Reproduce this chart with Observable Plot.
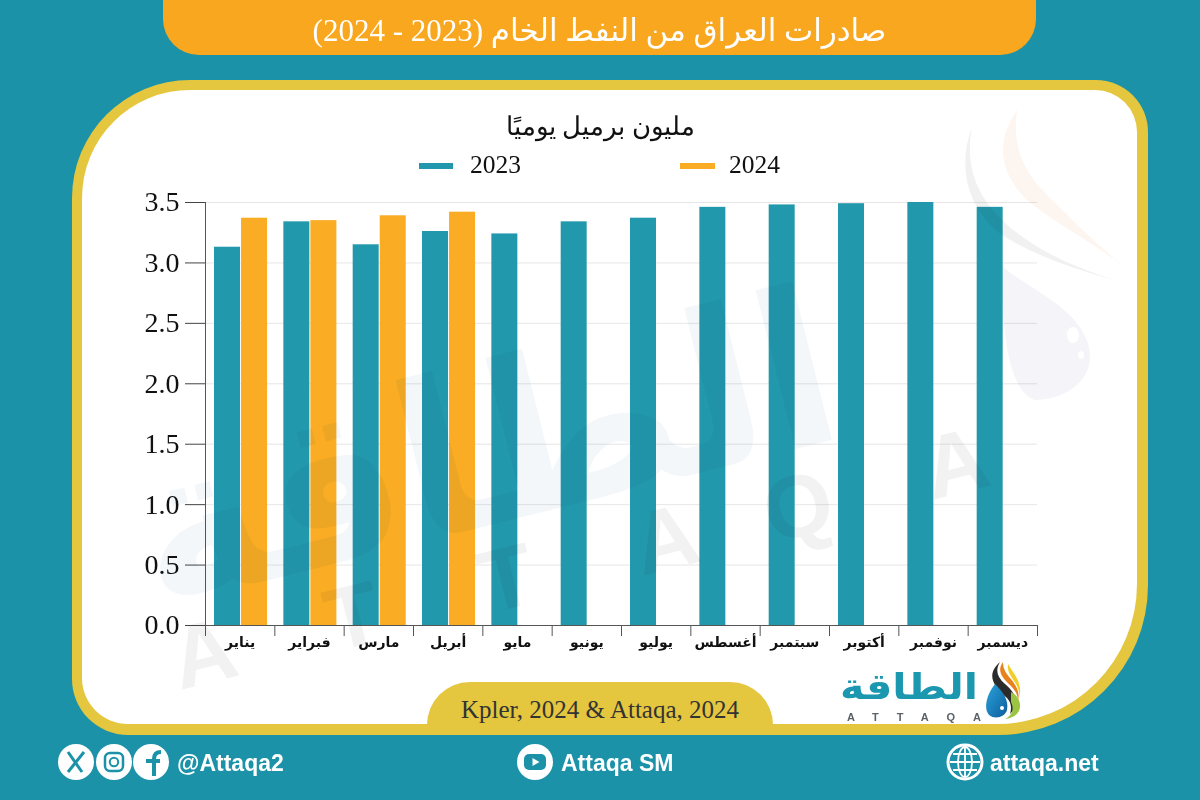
<!DOCTYPE html>
<html lang="ar">
<head>
<meta charset="utf-8">
<script src="https://cdn.jsdelivr.net/npm/d3@7"></script>
<script src="https://cdn.jsdelivr.net/npm/@observablehq/plot@0.6"></script>
<style>
html,body{margin:0;padding:0;width:1200px;height:800px;overflow:hidden;background:#1b92a8;}
body{position:relative;font-family:"Liberation Serif",serif;}
.abs{position:absolute;}
#topbar{left:163px;top:0;width:873px;height:55px;background:#f9a71e;border-radius:0 0 36px 36px;color:#fff;font-size:31px;line-height:61px;text-align:center;font-family:"Liberation Serif","DejaVu Sans",serif;}
#frame{left:72px;top:80px;width:1076px;height:655px;background:#e4c63f;border-radius:118px 52px 150px 56px;}
#panel,#wm{left:82px;top:90px;width:1055px;height:634px;border-radius:108px 42px 140px 46px;overflow:hidden;}
#panel{background:#fff;}
#wm{mix-blend-mode:multiply;pointer-events:none;}
#sub{left:300px;width:600px;top:109px;text-align:center;font-size:26px;line-height:36px;color:#111;}
.lg{height:6px;top:163px;}
.lt{top:151px;font-size:25.5px;line-height:28px;color:#111;}
#chart{left:130px;top:190px;}
#source{left:427px;top:682px;width:346px;height:43px;background:#e4c63f;border-radius:46px 46px 0 0;text-align:center;font-size:25px;line-height:56px;color:#333;}
.ft{color:#fff;font:bold 23px/26px "Liberation Sans",sans-serif;top:750px;}
</style>
</head>
<body>
<div class="abs" id="topbar" dir="rtl"><span dir="rtl">صادرات العراق من النفط الخام (2023 - 2024)</span></div>
<div class="abs" id="frame"></div>
<div class="abs" id="panel"></div>
<div class="abs" id="sub" dir="rtl">مليون برميل يوميًا</div>
<div class="abs lg" style="left:419px;width:34px;background:#2298ac"></div>
<div class="abs lt" style="left:470px">2023</div>
<div class="abs lg" style="left:680px;width:35px;background:#f9ac24"></div>
<div class="abs lt" style="left:729px">2024</div>
<div class="abs" id="chart"></div>
<div class="abs" id="wm">
  <svg width="1055" height="634" style="position:absolute;left:0;top:0">
    <text x="420" y="432" transform="rotate(-14 420 432)" font-family="DejaVu Sans" font-weight="bold" font-size="215" text-anchor="middle" dir="rtl" fill="#f3f7fa">الطاقة</text>
    <g fill="#f2f2f3" font-family="Liberation Sans" font-weight="bold" font-size="88">
      <text x="98" y="600" transform="rotate(-14 98 600)">A</text>
      <text x="252" y="562" transform="rotate(-14 252 562)">T</text>
      <text x="406" y="524" transform="rotate(-14 406 524)">T</text>
      <text x="560" y="486" transform="rotate(-14 560 486)">A</text>
      <text x="690" y="454" transform="rotate(-14 690 454)">Q</text>
      <text x="850" y="410" transform="rotate(-14 850 410)">A</text>
    </g>
    <path d="M890 37 C880 90 905 130 970 165 C1000 180 1030 190 1053 195 C1010 185 960 170 920 145 C885 120 875 75 890 37Z" fill="#f1f1f2"/>
    <path d="M935 20 C915 50 915 80 945 110 C975 135 1015 155 1040 175 C1010 150 985 125 965 105 C940 80 930 55 935 20Z" fill="#fdf5f0"/>
    <path d="M921 177 C948 200 1003 220 1008 263 C1010 295 978 310 953 310 C933 305 918 260 921 177Z" fill="#f4f4f9"/>
    <ellipse cx="991" cy="245" rx="6" ry="8" fill="#fff"/>
    <ellipse cx="999" cy="265" rx="3" ry="4" fill="#fff"/>
  </svg>
</div>
<div class="abs" id="source">Kpler, 2024 &amp; Attaqa, 2024</div>

<svg class="abs" style="left:835px;top:662px" width="210" height="62">
  <defs>
    <linearGradient id="dropG" x1="0" y1="0" x2="1" y2="1"><stop offset="0" stop-color="#2aa3dc"/><stop offset="1" stop-color="#0d5e9c"/></linearGradient>
  </defs>
  <text x="74" y="37" text-anchor="middle" font-family="DejaVu Sans" font-weight="bold" font-size="36" fill="#1b97b0" dir="rtl" textLength="138" lengthAdjust="spacingAndGlyphs">الطاقة</text>
  <text x="12" y="59" font-family="Liberation Sans" font-weight="bold" font-size="11" fill="#5c6166" textLength="134">ATTAQA</text>
  <path d="M165 0 C152 12 156 22 172 36 C176 40 177 46 175 52 C186 42 180 30 170 22 C162 15 160 8 165 0Z" fill="#2b2b2b"/>
  <path d="M168 0 C162 8 166 15 176 24 C182 30 184 36 182 42 C186 32 182 24 175 16 C170 10 168 6 168 0Z" fill="#e8821c"/>
  <path d="M173 2 C172 10 176 14 181 22 C184 28 185 32 184 36 C187 28 184 18 178 10Z" fill="#f0cf2c"/>
  <path d="M176 40 C180 48 176 54 170 57 C180 56 186 50 185 42 C184 36 180 32 176 30Z" fill="#9ac441"/>
  <path d="M160 22 C168 30 174 38 172 48 C170 55 160 58 154 53 C148 46 152 32 160 22Z" fill="url(#dropG)"/>
  <circle cx="167" cy="46" r="2" fill="#fff"/>
</svg>

<svg class="abs" style="left:55px;top:742px" width="120" height="40">
  <g fill="#fff"><ellipse cx="21" cy="20" rx="18" ry="18"/><ellipse cx="59" cy="20" rx="18" ry="18"/><ellipse cx="96" cy="20" rx="18" ry="18"/></g>
  <path d="M13 10 L27 30 M29 10 L13 30" stroke="#1b92a8" stroke-width="3" fill="none"/>
  <rect x="50" y="11" width="18" height="18" rx="5" fill="none" stroke="#1b92a8" stroke-width="2.5"/>
  <circle cx="59" cy="20" r="4.2" fill="none" stroke="#1b92a8" stroke-width="2"/>
  <path d="M99 34 V17 Q99 10 106 10 M91 19 H105" stroke="#1b92a8" stroke-width="4" fill="none"/>
</svg>
<div class="abs ft" style="left:177px">@Attaqa2</div>
<svg class="abs" style="left:516px;top:743px" width="40" height="38">
  <circle cx="19" cy="19" r="18" fill="#fff"/>
  <rect x="8" y="11" width="22" height="16" rx="5" fill="#1b92a8"/>
  <path d="M16.5 15 L23.5 19 L16.5 23Z" fill="#fff"/>
</svg>
<div class="abs ft" style="left:561px">Attaqa SM</div>
<svg class="abs" style="left:946px;top:743px" width="40" height="38">
  <circle cx="19" cy="19" r="17" fill="#1b92a8" stroke="#fff" stroke-width="3"/>
  <g fill="none" stroke="#fff" stroke-width="1.8"><ellipse cx="19" cy="19" rx="7" ry="15"/><path d="M19 4 V34 M4 19 H34 M7 11 H31 M7 27 H31"/></g>
</svg>
<div class="abs ft" style="left:990px">attaqa.net</div>

<script>
const months = ["يناير","فبراير","مارس","أبريل","مايو","يونيو","يوليو","أغسطس","سبتمبر","أكتوبر","نوفمبر","ديسمبر"];
const exports2023 = [3.13,3.34,3.15,3.26,3.24,3.34,3.37,3.46,3.48,3.49,3.50,3.46];
const exports2024 = [3.37,3.35,3.39,3.42];
const yTicks = [0,0.5,1,1.5,2,2.5,3,3.5];

const rows = [
  ...exports2023.map((value,i)=>({i,value,year:"2023",a:0.13,b:0.505})),
  ...exports2024.map((value,i)=>({i,value,year:"2024",a:0.52,b:0.895}))
];
const monthEdges = d3.range(months.length+1);
const monthCentres = months.map((_,i)=>i+0.5);

const chart = Plot.plot({
  width:920,height:480,
  marginLeft:75,marginRight:13,marginTop:12,marginBottom:45,
  style:{background:"transparent",fontFamily:"'Liberation Serif',serif",overflow:"visible"},
  x:{domain:[0,months.length]},
  y:{domain:[0,3.5]},
  color:{domain:["2023","2024"],range:["#2298ac","#f9ac24"]},
  marks:[
    Plot.gridY(yTicks,{stroke:"#dcdcdc",strokeOpacity:0.7}),
    Plot.rectY(rows,{x1:d=>d.i+d.a,x2:d=>d.i+d.b,y:"value",fill:"year"}),
    Plot.ruleX([0],{y1:0,y2:3.5,stroke:"#555"}),
    Plot.ruleY([0],{stroke:"#555",strokeOpacity:1}),
    Plot.axisY(yTicks,{tickSize:20,tickPadding:6,tickFormat:d3.format(".1f"),label:null,fontSize:28,stroke:"#444",strokeOpacity:1,fill:"#111"}),
    Plot.axisX(monthEdges,{tickSize:11,text:null,stroke:"#555",strokeOpacity:1}),
    Plot.axisX(monthCentres,{tickSize:0,tickPadding:12,tickFormat:d=>months[d-0.5],label:null,fontSize:14,fontWeight:"bold",fontFamily:"'DejaVu Sans',sans-serif",fill:"#111"})
  ]
});
document.getElementById("chart").append(chart);
</script>
</body>
</html>
